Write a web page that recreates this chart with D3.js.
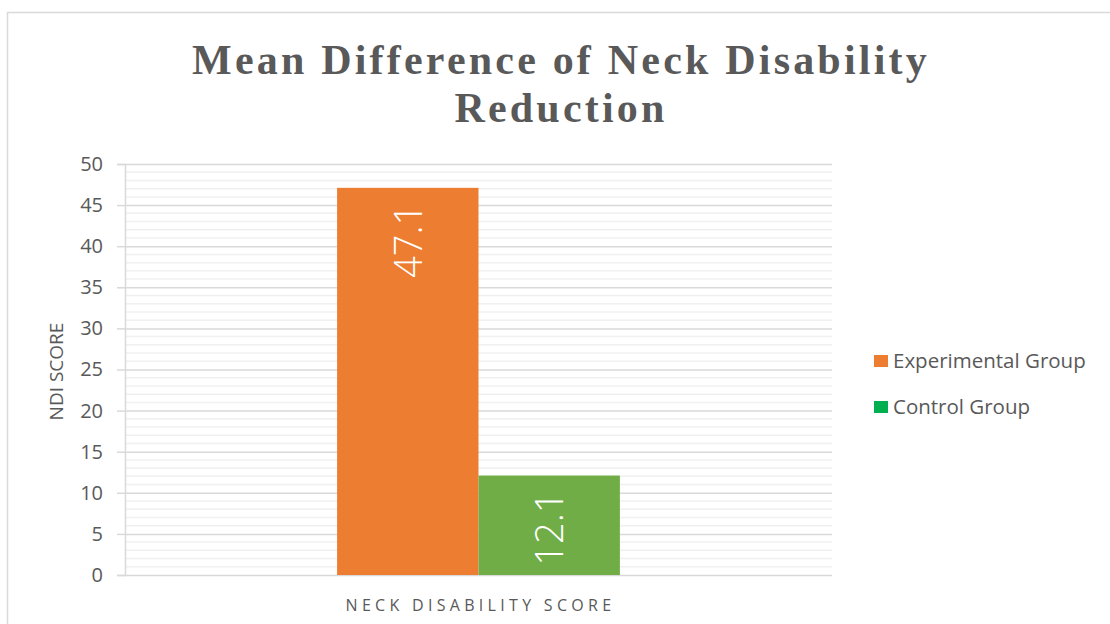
<!DOCTYPE html>
<html>
<head>
<meta charset="utf-8">
<script src="https://cdn.jsdelivr.net/npm/d3@7"></script>
<style>
  body { margin: 0; background: #fff; }
  svg { display: block; }
</style>
</head>
<body>
<div id="chart"></div>
<script>
const groups = ['Experimental Group', 'Control Group'];
const category = 'NECK DISABILITY SCORE';
const values = [47.1, 12.1];
const barColors = ['#ED7D31', '#70AD47'];
const legendColors = ['#ED7D31', '#00B050'];
const yTicks = [0, 5, 10, 15, 20, 25, 30, 35, 40, 45, 50];

const width = 1110, height = 624;
const margin = { top: 164, right: 278, bottom: 49, left: 125 };
const innerW = width - margin.left - margin.right;
const innerH = height - margin.top - margin.bottom;

const svg = d3.select('#chart').append('svg')
  .attr('width', width)
  .attr('height', height);

// chart frame
svg.append('rect')
  .attr('x', 7.5).attr('y', 12.5)
  .attr('width', width + 10).attr('height', height + 10)
  .attr('fill', '#fff')
  .attr('stroke', '#d9d9d9')
  .attr('stroke-width', 1.5);

const title = svg.append('text')
  .attr('text-anchor', 'middle')
  .attr('fill', '#595959')
  .style('font-family', '"Liberation Serif", serif')
  .style('font-weight', 'bold')
  .style('font-size', '42px')
  .style('letter-spacing', '3.2px');
title.append('tspan').attr('x', 561).attr('y', 74).text('Mean Difference of Neck Disability');
title.append('tspan').attr('x', 561).attr('y', 122).text('Reduction');

const g = svg.append('g').attr('transform', `translate(${margin.left},${margin.top})`);

const y = d3.scaleLinear().domain([0, 50]).range([innerH, 0]);
const x0 = d3.scaleBand().domain([category]).range([0, innerW]).paddingInner(0).paddingOuter(0.75);
const x1 = d3.scaleBand().domain(groups).range([0, x0.bandwidth()]);

// minor gridlines
g.append('g')
  .selectAll('line')
  .data(d3.range(0, 51, 1).filter(v => v % 5 !== 0))
  .join('line')
  .attr('x1', 0).attr('x2', innerW)
  .attr('y1', d => y(d)).attr('y2', d => y(d))
  .attr('stroke', '#f0f0f0')
  .attr('stroke-width', 1.5);

// major gridlines + axis
const yAxis = g.append('g')
  .call(d3.axisLeft(y).tickValues(yTicks).tickSize(8).tickPadding(14));
yAxis.select('.domain').attr('stroke', '#d9d9d9').attr('stroke-width', 1.5);
yAxis.selectAll('.tick line').attr('stroke', '#d9d9d9').attr('stroke-width', 1.5);
yAxis.selectAll('.tick').append('line')
  .attr('x1', 0).attr('x2', innerW)
  .attr('stroke', '#d9d9d9')
  .attr('stroke-width', 1.5);
yAxis.selectAll('.tick text')
  .attr('fill', '#595959')
  .style('font-family', '"Open Sans", sans-serif')
  .style('font-size', '20px');

// bars
const bars = g.append('g')
  .attr('transform', `translate(${x0(category)},0)`)
  .selectAll('g')
  .data(groups.map((name, i) => ({ name, value: values[i], color: barColors[i] })))
  .join('g');

bars.append('rect')
  .attr('x', d => x1(d.name))
  .attr('y', d => y(d.value))
  .attr('width', x1.bandwidth())
  .attr('height', d => innerH - y(d.value))
  .attr('fill', d => d.color);

bars.append('text')
  .attr('transform', d => `translate(${x1(d.name) + x1.bandwidth() / 2 + 14},${y(d.value) + 16}) rotate(-90)`)
  .attr('text-anchor', 'end')
  .attr('fill', '#fff')
  .style('font-family', '"Open Sans", sans-serif')
  .style('font-weight', 300)
  .style('font-size', '38px')
  .text(d => d.value.toFixed(1));

// x label
g.append('text')
  .attr('x', x0(category) + x0.bandwidth() / 2 + 2)
  .attr('y', innerH + 36)
  .attr('text-anchor', 'middle')
  .attr('fill', '#595959')
  .style('font-family', '"Open Sans", sans-serif')
  .style('font-size', '16px')
  .style('letter-spacing', '4.3px')
  .text(category);

// y title
svg.append('text')
  .attr('transform', `translate(63,${margin.top + innerH / 2 + 2}) rotate(-90)`)
  .attr('text-anchor', 'middle')
  .attr('fill', '#595959')
  .style('font-family', '"Open Sans", sans-serif')
  .style('font-size', '19px')
  .text('NDI SCORE');

// legend
const legend = svg.append('g').attr('transform', 'translate(874,361)');
const item = legend.selectAll('g')
  .data(groups)
  .join('g')
  .attr('transform', (d, i) => `translate(0,${i * 46})`);
item.append('rect')
  .attr('x', 0).attr('y', -6)
  .attr('width', 14).attr('height', 12)
  .attr('fill', (d, i) => legendColors[i]);
item.append('text')
  .attr('x', 19).attr('y', 0)
  .attr('dy', '0.35em')
  .attr('fill', '#595959')
  .style('font-family', '"Open Sans", sans-serif')
  .style('font-size', '20.5px')
  .text(d => d);
</script>
</body>
</html>
